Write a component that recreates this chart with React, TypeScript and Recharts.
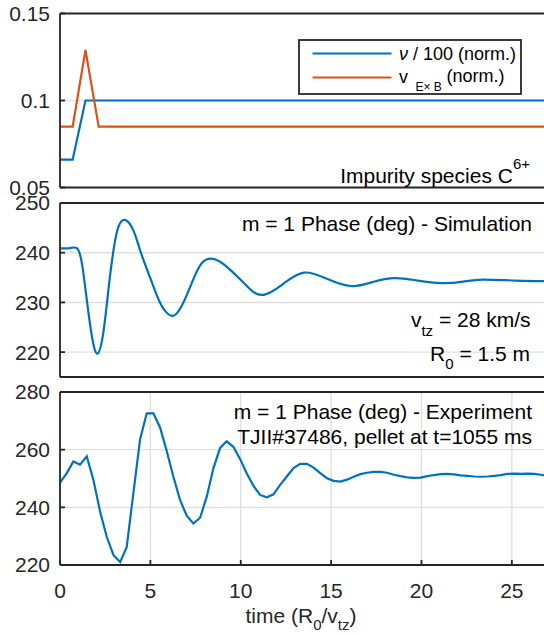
import { LineChart, Line, XAxis, YAxis, CartesianGrid, Legend } from 'recharts'

const FONT = '"Liberation Sans", Arial, Helvetica, sans-serif'
const INK = '#262626'
const GRID = '#dfdfdf'
const BLUE = '#0072BD'
const ORANGE = '#D95319'

// shared time axis (R0/vtz)
const timeTicks = [0, 5, 10, 15, 20, 25]
const timeDomain = [0, 27]

// top panel: nu/100 and ExB velocity, normalised
const nuTime = [0, 0.7, 1.41, 27]
const nuValue = [0.066, 0.066, 0.1, 0.1]
const exbTime = [0, 0.7, 1.41, 2.14, 27]
const exbValue = [0.085, 0.085, 0.129, 0.085, 0.085]
const normTicks = [0.05, 0.1, 0.15]

// middle panel: simulated m=1 phase
const simTime = [
    0, 0.5, 0.93, 1.21, 1.48, 1.76, 2.07, 2.4, 2.68, 2.96,
    3.23, 3.6, 4.06, 4.43, 4.89, 5.45, 5.81, 6.24, 6.73, 7.29,
    7.84, 8.54, 9.31, 10.2, 11.14, 12.3, 13.5, 14.8, 16.1, 17.3,
    18.5, 19.8, 21.1, 22.3, 23.4, 25.2, 27
]
const simPhase = [
    240.9, 240.9, 240.9, 237.9, 230.6, 223.3, 219.7, 224, 232.6, 240.5,
    245.2, 246.6, 244.5, 240.5, 235.9, 230.6, 228.3, 227.3, 229.3, 233.9,
    237.9, 238.7, 236.9, 233.8, 231.5, 233.6, 236.0, 234.7, 233.3, 234.1,
    234.9, 234.4, 233.9, 234.2, 234.6, 234.4, 234.3
]
const simTicks = [220, 230, 240, 250]

// bottom panel: measured m=1 phase, TJII#37486
const expTime = [
    0, 0.37, 0.74, 1.11, 1.48, 1.85, 2.22, 2.59, 2.96, 3.33,
    3.69, 4.06, 4.43, 4.8, 5.17, 5.54, 5.91, 6.27, 6.64, 7.01,
    7.38, 7.75, 8.12, 8.49, 8.86, 9.22, 9.59, 9.96, 10.33, 10.7,
    11.07, 11.44, 11.81, 12.18, 12.55, 12.92, 13.29, 13.66, 14.03, 14.4,
    14.77, 15.14, 15.51, 15.88, 16.25, 16.62, 16.99, 17.36, 17.73, 18.1,
    18.47, 18.84, 19.21, 19.58, 19.95, 20.32, 20.69, 21.06, 21.43, 21.8,
    22.17, 22.54, 22.91, 23.28, 23.65, 24.02, 24.39, 24.76, 25.13, 25.5,
    25.87, 26.24, 26.61, 26.98
]
const expPhase = [
    248.6, 251.8, 255.9, 254.8, 257.7, 249.5, 238.5, 229.7, 223.4, 221.0,
    226.2, 244.9, 263.5, 272.6, 272.6, 267.6, 259.4, 250.7, 242.6, 237.1,
    234.4, 236.4, 243.7, 253.6, 260.6, 262.9, 261.0, 256.8, 251.8, 247.5,
    244.3, 243.5, 244.5, 247.8, 250.7, 253.6, 255.1, 255.1, 253.8, 251.9,
    250.1, 249.2, 248.9, 249.6, 250.6, 251.5, 252.0, 252.3, 252.3, 252.0,
    251.3, 250.8, 250.4, 250.2, 250.3, 250.8, 251.2, 251.5, 251.6, 251.4,
    251.1, 250.9, 250.7, 250.6, 250.7, 250.9, 251.2, 251.6, 251.7, 251.6,
    251.7, 251.6, 251.3, 250.9
]
const expTicks = [220, 240, 260, 280]

const zip = (t: number[], v: number[]) => t.map((x, i) => ({ t: x, v: v[i] }))

const W = 560
const tickFont = { fill: INK, fontSize: 21, fontFamily: FONT }
const axisStroke = { stroke: INK, strokeWidth: 1.8 }

// matlab style box: inward ticks on all four sides
function frame(domain: number[], ticks: number[], showTime: boolean) {
    return [
        <CartesianGrid key="grid" xAxisId="b" yAxisId="l" stroke={GRID} strokeWidth={1.4} />,
        <XAxis key="xb" xAxisId="b" type="number" dataKey="t" domain={timeDomain} ticks={timeTicks}
            allowDataOverflow height={1} tickSize={-5} tickMargin={23} interval={0}
            tick={showTime ? tickFont : false} axisLine={axisStroke} tickLine={axisStroke} />,
        <XAxis key="xt" xAxisId="t" orientation="top" type="number" dataKey="t" domain={timeDomain}
            ticks={timeTicks} allowDataOverflow height={1} tickSize={-5} interval={0}
            tick={false} axisLine={axisStroke} tickLine={axisStroke} />,
        <YAxis key="yl" yAxisId="l" type="number" domain={domain} ticks={ticks} allowDataOverflow
            width={60} tickSize={-5} tickMargin={15} interval={0}
            tick={tickFont} axisLine={axisStroke} tickLine={axisStroke} />,
        <YAxis key="yr" yAxisId="r" orientation="right" type="number" domain={domain} ticks={ticks}
            allowDataOverflow width={1} tickSize={-5} interval={0}
            tick={false} axisLine={axisStroke} tickLine={axisStroke} />,
    ]
}

function LegendBox() {
    return (
        <svg width={224} height={56} style={{ display: 'block', fontFamily: FONT }}>
            <rect x={1} y={1} width={222} height={54} fill="#fff" stroke={INK} strokeWidth={1.8} />
            <line x1={14.5} x2={93.5} y1={14.5} y2={14.5} stroke={BLUE} strokeWidth={2.2} />
            <line x1={14.5} x2={93.5} y1={38.5} y2={38.5} stroke={ORANGE} strokeWidth={2.2} />
            <text x={101} y={21} fontSize={18} fill="#000">
                <tspan fontStyle="italic">ν</tspan> / 100 (norm.)
            </text>
            <text fontSize={18} fill="#000">
                <tspan x={101} y={44}>v</tspan>
                <tspan x={117.5} y={52} fontSize={12}>E× B</tspan>
                <tspan x={148.5} y={43}>(norm.)</tspan>
            </text>
        </svg>
    )
}

export default function App() {
    const nuData = zip(nuTime, nuValue)
    const exbData = zip(exbTime, exbValue)
    const simData = zip(simTime, simPhase)
    const expData = zip(expTime, expPhase)

    return (
        <div style={{ position: 'absolute', left: 0, top: 0, width: 544, height: 636, overflow: 'hidden', background: '#fff' }}>
            <div style={{ position: 'absolute', left: 0, top: 0 }}>
                <LineChart width={W} height={200} margin={{ top: 12.5, right: 11, bottom: 11.5, left: 0 }}>
                    {frame([0.05, 0.15], normTicks, false)}
                    <Line xAxisId="b" yAxisId="l" data={nuData} dataKey="v" type="linear" stroke={BLUE}
                        strokeWidth={2.2} dot={false} isAnimationActive={false} />
                    <Line xAxisId="b" yAxisId="l" data={exbData} dataKey="v" type="linear" stroke={ORANGE}
                        strokeWidth={2.2} dot={false} isAnimationActive={false} />
                    <Legend layout="horizontal" verticalAlign="middle" align="center"
                        wrapperStyle={{ left: 298, top: 39, width: 224, height: 56 }}
                        content={() => <LegendBox />} />
                </LineChart>
            </div>
            <div style={{ position: 'absolute', left: 0, top: 190 }}>
                <LineChart width={W} height={200} margin={{ top: 12, right: 11, bottom: 12, left: 0 }}>
                    {frame([215, 250], simTicks, false)}
                    <Line xAxisId="b" yAxisId="l" data={simData} dataKey="v" type="natural" stroke={BLUE}
                        strokeWidth={2.2} dot={false} isAnimationActive={false} />
                </LineChart>
            </div>
            <div style={{ position: 'absolute', left: 0, top: 380 }}>
                <LineChart width={W} height={256} margin={{ top: 11, right: 11, bottom: 70, left: 0 }}>
                    {frame([220, 280], expTicks, true)}
                    <Line xAxisId="b" yAxisId="l" data={expData} dataKey="v" type="linear" stroke={BLUE}
                        strokeWidth={2.2} dot={false} isAnimationActive={false} />
                </LineChart>
            </div>

            {/* annotations */}
            <svg width={544} height={636} style={{ position: 'absolute', left: 0, top: 0, pointerEvents: 'none', fontFamily: FONT }}>
                <g fontSize={21} fill="#000">
                    <text x={530} y={182.5} textAnchor="end">
                        Impurity species C<tspan dy={-14} fontSize={15}>6+</tspan>
                    </text>
                    <text x={532} y={231} textAnchor="end">m = 1 Phase (deg) - Simulation</text>
                    <text x={530.5} y={327} textAnchor="end">
                        v<tspan dy={9} fontSize={15}>tz</tspan><tspan dy={-9}> = 28 km/s</tspan>
                    </text>
                    <text x={530} y={360.5} textAnchor="end">
                        R<tspan dy={8} fontSize={15}>0</tspan><tspan dy={-8}> = 1.5 m</tspan>
                    </text>
                    <text x={532} y={418.5} textAnchor="end">m = 1 Phase (deg) - Experiment</text>
                    <text x={532} y={444} textAnchor="end">TJII#37486, pellet at t=1055 ms</text>
                    <text x={301} y={622.5} textAnchor="middle" fill={INK}>
                        time (R<tspan dy={7} fontSize={15}>0</tspan><tspan dy={-7}>/v</tspan><tspan dy={7} fontSize={15}>tz</tspan><tspan dy={-7}>)</tspan>
                    </text>
                </g>
            </svg>
        </div>
    )
}
